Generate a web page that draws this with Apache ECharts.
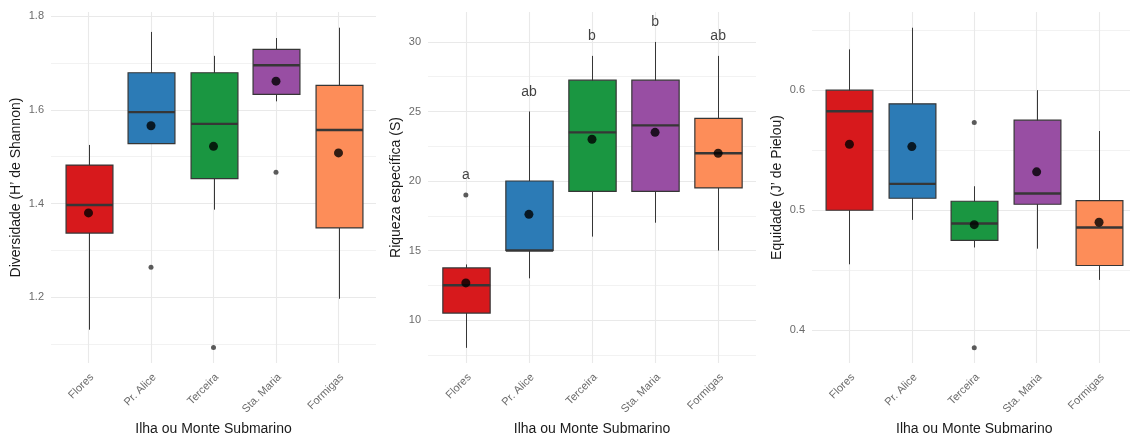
<!DOCTYPE html>
<html>
<head>
<meta charset="utf-8">
<script src="https://cdn.jsdelivr.net/npm/echarts@6/dist/echarts.min.js"></script>
<style>
  html, body { margin: 0; padding: 0; background: #ffffff; }
  #chart { width: 1130px; height: 437px; }
</style>
</head>
<body>
<div id="chart"></div>
<script>
// Sampling sites (islands and seamounts)
const categories = ['Flores', 'Pr. Alice', 'Terceira', 'Sta. Maria', 'Formigas'];
const boxColors = ['#d7191c', '#2c7bb6', '#1a9641', '#984ea3', '#fd8d59'];

// Shannon diversity (H')
const shannonLow    = [1.131, 1.528, 1.387, 1.618, 1.197];
const shannonQ1     = [1.337, 1.528, 1.453, 1.633, 1.348];
const shannonMedian = [1.397, 1.595, 1.570, 1.695, 1.557];
const shannonQ3     = [1.482, 1.679, 1.679, 1.729, 1.652];
const shannonHigh   = [1.525, 1.766, 1.715, 1.753, 1.775];
const shannonMean   = [1.380, 1.566, 1.522, 1.661, 1.508];
const shannonOutliers = [[1, 1.264], [2, 1.093], [3, 1.467]];
const shannonTicks  = [1.2, 1.4, 1.6, 1.8];
const shannonMinor  = [1.1, 1.3, 1.5, 1.7];

// Species richness (S)
const richLow    = [8, 13, 16, 17, 15];
const richQ1     = [10.5, 15, 19.25, 19.25, 19.5];
const richMedian = [12.5, 15, 23.5, 24, 22];
const richQ3     = [13.75, 20, 27.25, 27.25, 24.5];
const richHigh   = [14, 25, 29, 30, 29];
const richMean   = [12.67, 17.6, 23.0, 23.5, 22.0];
const richOutliers = [[0, 19]];
const richLetters  = ['a', 'ab', 'b', 'b', 'ab'];
const richLetterY  = [20.4, 26.4, 30.4, 31.4, 30.4];
const richTicks    = [10, 15, 20, 25, 30];
const richMinor    = [7.5, 12.5, 17.5, 22.5, 27.5];

// Pielou evenness (J')
const evenLow    = [0.455, 0.492, 0.469, 0.468, 0.442];
const evenQ1     = [0.500, 0.510, 0.475, 0.505, 0.454];
const evenMedian = [0.5825, 0.522, 0.489, 0.514, 0.4856];
const evenQ3     = [0.600, 0.5886, 0.5075, 0.575, 0.508];
const evenHigh   = [0.634, 0.652, 0.520, 0.600, 0.566];
const evenMean   = [0.555, 0.553, 0.488, 0.532, 0.490];
const evenOutliers = [[2, 0.573], [2, 0.3855]];
const evenTicks  = [0.4, 0.5, 0.6];
const evenMinor  = [0.45, 0.55, 0.65];

const FONT = '"Liberation Sans", Arial, sans-serif';
const MAJOR_GRID = '#e9e9e9';
const MINOR_GRID = '#f2f2f2';
const OUTLINE = '#363636';
const catPositions = categories.map((c, k) => k);

const panels = [
  { title: 'Diversidade (H\u2019 de Shannon)', low: shannonLow, q1: shannonQ1, med: shannonMedian, q3: shannonQ3, high: shannonHigh,
    mean: shannonMean, outliers: shannonOutliers, ticks: shannonTicks, minor: shannonMinor,
    min: 1.060, max: 1.8085, digits: 1, grid: { left: 51, top: 12, width: 325, height: 351 }, nameGap: 28 },
  { title: 'Riqueza espec\u00edfica (S)', low: richLow, q1: richQ1, med: richMedian, q3: richQ3, high: richHigh,
    mean: richMean, outliers: richOutliers, ticks: richTicks, minor: richMinor,
    min: 6.91, max: 32.156, digits: 0, grid: { left: 428, top: 12, width: 328, height: 351 }, nameGap: 24.5 },
  { title: 'Equidade (J\u2019 de Pielou)', low: evenLow, q1: evenQ1, med: evenMedian, q3: evenQ3, high: evenHigh,
    mean: evenMean, outliers: evenOutliers, ticks: evenTicks, minor: evenMinor,
    min: 0.3728, max: 0.6651, digits: 1, grid: { left: 812, top: 12, width: 324.5, height: 351 }, nameGap: 28 }
];

// One box: whisker from low to high, filled box from Q1 to Q3, thick median bar
function renderBox(params, api) {
  const idx = api.value(0);
  const unit = api.size([1, 0])[0];
  const half = unit * 0.375;
  const pLow = api.coord([idx, api.value(1)]);
  const pQ1 = api.coord([idx, api.value(2)]);
  const pMed = api.coord([idx, api.value(3)]);
  const pQ3 = api.coord([idx, api.value(4)]);
  const pHigh = api.coord([idx, api.value(5)]);
  const cx = Math.round(pMed[0]) + 0.5;
  return {
    type: 'group',
    children: [
      { type: 'line', shape: { x1: cx, y1: pLow[1], x2: cx, y2: pHigh[1] },
        style: { stroke: OUTLINE, lineWidth: 1 } },
      { type: 'rect', shape: { x: cx - half, y: pQ3[1], width: half * 2, height: pQ1[1] - pQ3[1] },
        style: { fill: boxColors[idx], stroke: OUTLINE, lineWidth: 1.2 } },
      { type: 'line', shape: { x1: cx - half, y1: pMed[1], x2: cx + half, y2: pMed[1] },
        style: { stroke: OUTLINE, lineWidth: 2.4 } }
    ]
  };
}

const grids = [], xAxes = [], yAxes = [], series = [];

panels.forEach((p, i) => {
  grids.push(Object.assign({ containLabel: false, outerBoundsMode: 'none' }, p.grid));
  // Discrete sites on a numeric axis, padded by 0.6 of a step on each side
  xAxes.push({
    type: 'value', gridIndex: i, min: -0.6, max: 4.6,
    axisLine: { show: false }, axisTick: { show: false }, splitLine: { show: false },
    axisLabel: { customValues: catPositions, rotate: 45, color: '#6b6b6b', fontSize: 11, fontFamily: FONT,
      margin: 9, verticalAlign: 'top', lineHeight: 10, formatter: v => categories[Math.round(v)] },
    name: 'Ilha ou Monte Submarino', nameLocation: 'middle', nameGap: 54,
    nameTextStyle: { fontSize: 14, color: '#1a1a1a', fontFamily: FONT }
  });
  yAxes.push({
    type: 'value', gridIndex: i, min: p.min, max: p.max, scale: true,
    axisLine: { show: false }, axisTick: { show: false }, splitLine: { show: false },
    axisLabel: { customValues: p.ticks, color: '#6b6b6b', fontSize: 11, fontFamily: FONT, margin: 7,
      formatter: v => Number(v).toFixed(p.digits) },
    name: p.title, nameLocation: 'middle', nameRotate: 90, nameGap: p.nameGap,
    nameTextStyle: { fontSize: 14, color: '#1a1a1a', fontFamily: FONT }
  });

  // Panel grid lines (major, minor and one per site), kept beneath the boxes
  const gridLines = []
    .concat(p.minor.map(v => ({ yAxis: v, lineStyle: { color: MINOR_GRID, width: 1 } })))
    .concat(p.ticks.map(v => ({ yAxis: v, lineStyle: { color: MAJOR_GRID, width: 1.1 } })))
    .concat(catPositions.map(k => ({ xAxis: k, lineStyle: { color: MAJOR_GRID, width: 1.1 } })));
  series.push({
    type: 'line', xAxisIndex: i, yAxisIndex: i, data: [], z: 0, silent: true,
    markLine: { silent: true, z: 0, symbol: ['none', 'none'], label: { show: false },
      lineStyle: { type: 'solid' }, animation: false, data: gridLines }
  });

  series.push({
    type: 'custom', xAxisIndex: i, yAxisIndex: i, z: 10,
    renderItem: renderBox,
    encode: { x: 0, y: [1, 2, 3, 4, 5] },
    data: catPositions.map(k => [k, p.low[k], p.q1[k], p.med[k], p.q3[k], p.high[k]])
  });

  series.push({
    type: 'scatter', xAxisIndex: i, yAxisIndex: i, z: 11, symbol: 'circle', symbolSize: 5,
    itemStyle: { color: '#333333' }, data: p.outliers
  });

  series.push({
    type: 'scatter', xAxisIndex: i, yAxisIndex: i, z: 12, symbol: 'circle', symbolSize: 9,
    itemStyle: { color: '#000000' }, data: p.mean.map((m, k) => [k, m])
  });
});

// Group letters above the richness boxes
series.push({
  type: 'scatter', xAxisIndex: 1, yAxisIndex: 1, z: 13, symbolSize: 1,
  itemStyle: { color: 'rgba(0,0,0,0)' },
  label: { show: true, position: 'inside', color: '#111111', fontSize: 14, fontFamily: FONT,
    formatter: prm => richLetters[prm.dataIndex] },
  data: richLetterY.map((y, k) => [k, y])
});

const chart = echarts.init(document.getElementById('chart'), null, { renderer: 'canvas' });
chart.setOption({
  animation: false,
  backgroundColor: '#ffffff',
  grid: grids, xAxis: xAxes, yAxis: yAxes, series: series
});
</script>
</body>
</html>
